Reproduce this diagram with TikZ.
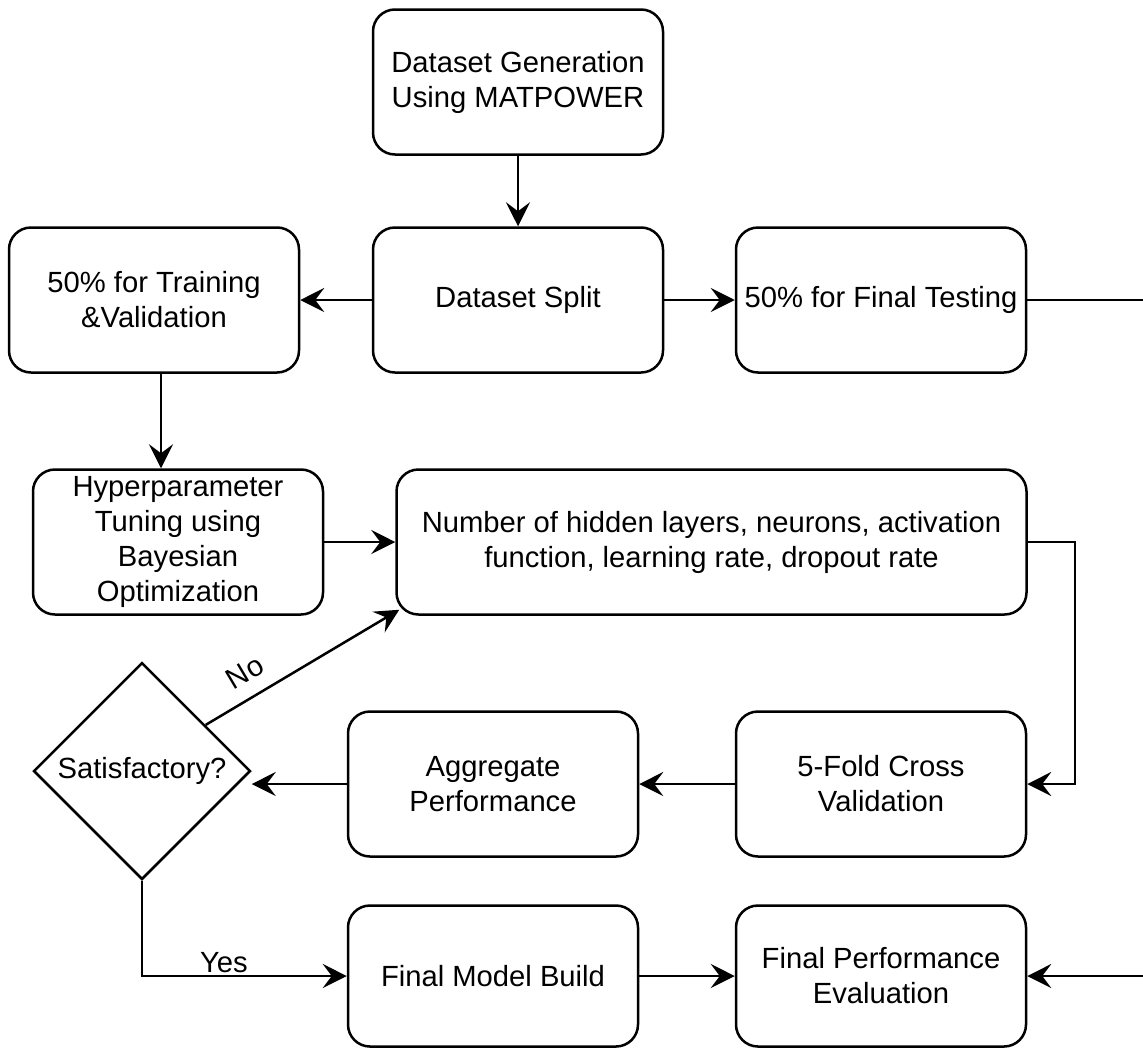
\documentclass[tikz,border=0pt]{standalone}
\usepackage{fontspec}
\setmainfont{Liberation Sans}
\usetikzlibrary{shapes.geometric,arrows.meta,calc}

\begin{document}
\begin{tikzpicture}[
  x=0.5pt, y=-0.5pt,
  font=\fontsize{14.6}{17.5}\selectfont,
  line width=1.25pt,
  box/.style={draw, rounded corners=11pt, align=center, inner sep=0pt,
              minimum width=145pt, minimum height=72.5pt},
  decision/.style={draw, diamond, aspect=1, inner sep=0pt, minimum size=108.5pt},
  arrow/.style={-{Stealth[length=12pt, width=12pt, inset=4.5pt]}},
  lbl/.style={inner sep=1pt}
]
\useasboundingbox (0,0) rectangle (1143,1049);
\clip (0,0) rectangle (1143,1049);

% process steps
\node[box] (gen)   at (518,82)  {Dataset Generation\\Using MATPOWER};
\node[box] (split) at (518,300) {Dataset Split};
\node[box] (train) at (154,300) {50\% for Training\\\&Validation};
\node[box] (test)  at (881,300) {50\% for Final Testing};
\node[box] (hyper) at (178,542) {Hyperparameter\\Tuning using\\Bayesian\\Optimization};
\node[box, minimum width=315pt] (num) at (711.5,542)
  {Number of hidden layers, neurons, activation\\function, learning rate, dropout rate};
\node[decision] (sat) at (142,771) {Satisfactory?};
\node[box] (agg)   at (493,784) {Aggregate\\Performance};
\node[box] (fold)  at (881,784) {5-Fold Cross\\Validation};
\node[box, minimum height=70.5pt] (build) at (493,976) {Final Model Build};
\node[box, minimum height=70.5pt] (eval)  at (881,976) {Final Performance\\Evaluation};

% routing points
\coordinate (numR)  at (1075,542);
\coordinate (testR) at (1165,300);
\coordinate (noS)   at ($(sat.north)!0.58!(sat.east)$);
\coordinate (noE)   at ($(num.south west)+(4,-6)$);

% connectors
\draw[arrow] (gen) -- (split);
\draw[arrow] (split) -- (train);
\draw[arrow] (split) -- (test);
\draw[arrow] (train.south -| 161,0) -- (hyper.north -| 161,0);
\draw[arrow] (hyper) -- (num);
\draw[arrow] (num.east) -- (numR) |- (fold.east);
\draw[arrow] (fold) -- (agg);
\draw[arrow] (agg.west) -- (agg.west -| sat.east);
\draw[arrow] (noS) -- node[lbl, sloped, above=6pt, pos=0.27] {No} (noE);
\draw[arrow] (sat.south) |- node[lbl, pos=0.70, above=0pt] {Yes} (build.west);
\draw[arrow] (build) -- (eval);
\draw[arrow] (test.east) -- (testR) |- (eval.east);
\end{tikzpicture}
\end{document}
